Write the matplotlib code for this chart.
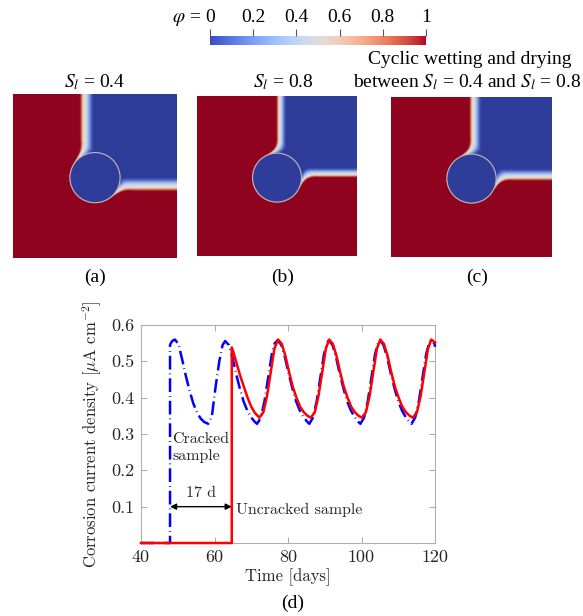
import numpy as np
import matplotlib
matplotlib.use('Agg')
import matplotlib.pyplot as plt
from matplotlib.colors import Normalize, ListedColormap
from matplotlib.cm import ScalarMappable
from matplotlib.patches import Circle

# ---- corrosion current density curves ----
red_t = [40, 64.7, 64.7, 65, 66, 67, 68, 69, 70, 71, 72.2, 73.3, 74.3, 75.3, 76.3,
         77.3, 78.3, 79.3, 80.3, 81.3, 82.3, 83.3, 84.3, 85.3, 86.2, 87.3, 88.3, 89.3, 90.3,
         91.2, 92.2, 93.2, 94.2, 95.2, 96.2, 97.2, 98.2, 99.2, 100.1, 101.2, 102.2, 103.2, 104.2,
         105.1, 106.1, 107.1, 108.1, 109.1, 110.1, 111.1, 112.1, 113.1, 114.0, 115.1, 116.1,
         117.1, 118.1, 119.0, 120]
red_j = [0, 0, 0.538, 0.53, 0.495, 0.46, 0.43, 0.40, 0.375, 0.358, 0.345, 0.36, 0.405, 0.47, 0.535,
         0.56, 0.548, 0.515, 0.47, 0.43, 0.40, 0.375, 0.36, 0.35, 0.345, 0.36, 0.405, 0.47, 0.535,
         0.56, 0.548, 0.515, 0.47, 0.43, 0.40, 0.375, 0.36, 0.35, 0.345, 0.36, 0.405, 0.47, 0.535,
         0.56, 0.548, 0.515, 0.47, 0.43, 0.40, 0.375, 0.36, 0.35, 0.345, 0.36, 0.405,
         0.47, 0.535, 0.56, 0.552]

blue_t = [40, 47.9, 47.9, 48.4, 49.2, 50.2, 51.2, 52.2, 53.2, 54.2, 55.2, 56.2, 57.2, 58.3,
          59.3, 60.3, 61.3, 62.2, 62.9,
          63.9, 64.9, 65.9, 66.9, 67.9, 68.9, 69.9, 70.9, 71.6, 72.6, 73.6, 74.6, 75.6, 76.4, 77.2,
          78.2, 79.2, 80.2, 81.2, 82.2, 83.2, 84.2, 85.2, 85.8, 86.8, 87.8, 88.8, 89.8, 90.6, 91.1,
          92.1, 93.1, 94.1, 95.1, 96.1, 97.1, 98.1, 99.1, 99.7, 100.7, 101.7, 102.7, 103.7, 104.5, 105.0,
          106.0, 107.0, 108.0, 109.0, 110.0, 111.0, 112.0, 113.0, 113.6, 114.6, 115.6, 116.6, 117.6,
          118.4, 118.9, 119.9, 120]
blue_j = [0, 0, 0.545, 0.555, 0.56, 0.548, 0.505, 0.46, 0.42, 0.385, 0.36, 0.343, 0.333, 0.328,
          0.35, 0.43, 0.50, 0.545, 0.556,
          0.545, 0.51, 0.465, 0.425, 0.39, 0.365, 0.347, 0.334, 0.328, 0.345, 0.39, 0.455, 0.52, 0.55, 0.558,
          0.545, 0.51, 0.465, 0.425, 0.39, 0.365, 0.347, 0.334, 0.328, 0.345, 0.39, 0.455, 0.52, 0.55, 0.558,
          0.545, 0.51, 0.465, 0.425, 0.39, 0.365, 0.347, 0.334, 0.328, 0.345, 0.39, 0.455, 0.52, 0.55, 0.558,
          0.545, 0.51, 0.465, 0.425, 0.39, 0.365, 0.347, 0.334, 0.328, 0.345, 0.39, 0.455, 0.52,
          0.55, 0.558, 0.548, 0.54]

x_ticks = [40, 60, 80, 100, 120]
y_ticks = [0.1, 0.2, 0.3, 0.4, 0.5, 0.6]
cbar_ticks = [0, 0.2, 0.4, 0.6, 0.8, 1]
cbar_labels = ['0', '0.2', '0.4', '0.6', '0.8', '1']

# ---- phase field snapshots: boundary of the dry (blue) region ----
panel_titles = [r'$S_l$ = 0.4', r'$S_l$ = 0.8', None]
panel_letters = ['(a)', '(b)', '(c)']
front_x = [0.435, 0.515, 0.51]    # vertical front position
front_y = [0.565, 0.49, 0.50]     # horizontal front position (from top)
fillet = [0.07, 0.09, 0.09]
width_blue = [0.06, 0.045, 0.055]
width_red = [0.03, 0.02, 0.025]
pit = (0.5, 0.51, 0.153)

FS = 'Liberation Serif'
CM = 'cmr10'

fig = plt.figure(figsize=(5.83, 6.16), dpi=100)
W, H = 583.0, 616.0


def box(x0, y0, x1, y1):
    return [x0 / W, 1 - y1 / H, (x1 - x0) / W, (y1 - y0) / H]


def smoothstep(t):
    t = np.clip(t, 0, 1)
    return t * t * (3 - 2 * t)


def phase_field(x0, y1, k, wb, wr, n=320):
    u, v = np.meshgrid(np.linspace(0, 1, n), np.linspace(0, 1, n))
    a = x0 - u
    b = v - y1
    dq = np.sqrt(np.maximum(a, 0) ** 2 + np.maximum(b, 0) ** 2) + np.minimum(np.maximum(a, b), 0)
    dc = np.hypot(u - pit[0], v - pit[1]) - pit[2]
    h = np.clip(0.5 + 0.5 * (dc - dq) / k, 0, 1)
    d = dc * (1 - h) + dq * h - k * h * (1 - h)
    # sharp edge where the pit itself dominates, diffuse along the fronts
    wr_e = 0.002 + (wr - 0.002) * h
    wb_e = 0.002 + (wb - 0.002) * h
    return np.where(d > 0, 0.5 + 0.5 * smoothstep(d / wr_e), 0.5 - 0.5 * smoothstep(-d / wb_e))


# darker version of coolwarm for the rendered fields
base = plt.get_cmap('coolwarm')(np.linspace(0, 1, 256))
shade = 0.8 + 0.2 * (1 - np.abs(np.linspace(-1, 1, 256)))
base[:, :3] *= shade[:, None]
cmap_img = ListedColormap(base)

# ---- colour bar ----
cax = fig.add_axes(box(210, 36, 426, 45))
cb = fig.colorbar(ScalarMappable(norm=Normalize(0, 1), cmap='coolwarm'), cax=cax,
                  orientation='horizontal', ticks=cbar_ticks)
cb.outline.set_visible(False)
cax.xaxis.set_ticks_position('top')
cax.set_xticklabels(cbar_labels, fontfamily=FS, fontsize=14)
cax.tick_params(axis='x', length=5, width=0.8, color='#555555', pad=2)
fig.text(201 / W, 1 - 20 / H, r'$\varphi$ =', ha='right', va='center',
         fontfamily=FS, fontsize=14, math_fontfamily='stix')

# ---- field images ----
img_boxes = [box(13, 94, 177, 258), box(197, 96, 357, 256), box(391, 97, 552, 257)]
title_pos = [95, 283, 470]
letter_pos = [95, 283, 477]
for i in range(3):
    ax = fig.add_axes(img_boxes[i])
    phi = phase_field(front_x[i], front_y[i], fillet[i], width_blue[i], width_red[i])
    ax.imshow(phi, cmap=cmap_img, vmin=0, vmax=1, extent=(0, 1, 1, 0),
              aspect='auto', interpolation='bilinear')
    ax.add_patch(Circle((pit[0], pit[1]), pit[2], facecolor=cmap_img(0.0),
                        edgecolor='#c9b3b6', lw=0.8))
    ax.set_xlim(0, 1)
    ax.set_ylim(1, 0)
    ax.axis('off')
    if panel_titles[i]:
        fig.text(title_pos[i] / W, 1 - 82 / H, panel_titles[i], ha='center', va='center',
                 fontfamily=FS, fontsize=14, math_fontfamily='stix')
    fig.text(letter_pos[i] / W, 1 - 277 / H, panel_letters[i], ha='center', va='center',
             fontfamily=FS, fontsize=14)

fig.text(470 / W, 1 - 60 / H, 'Cyclic wetting and drying', ha='center', va='center',
         fontfamily=FS, fontsize=14)
fig.text(467 / W, 1 - 82 / H, r'between $S_l$ = 0.4 and $S_l$ = 0.8', ha='center', va='center',
         fontfamily=FS, fontsize=14, math_fontfamily='stix')

# ---- corrosion current plot ----
ax = fig.add_axes(box(141, 325, 435, 543))
ax.plot(blue_t, blue_j, color='#0000ff', lw=1.8, ls=(0, (5.5, 1.6, 0.3, 1.6)),
        clip_on=False, zorder=3)
ax.plot(red_t, red_j, color='#ff0000', lw=1.8, clip_on=False, zorder=4)
ax.set_xlim(40, 120)
ax.set_ylim(0, 0.6)
ax.set_xticks(x_ticks)
ax.set_xticklabels([str(v) for v in x_ticks], fontfamily=CM, fontsize=13)
ax.set_yticks(y_ticks)
ax.set_yticklabels(['%.1f' % v for v in y_ticks], fontfamily=CM, fontsize=13)
ax.tick_params(direction='in', top=True, right=True, length=4, width=0.6,
               color='#9a9a9a', labelcolor='#262626', pad=5)
for s in ax.spines.values():
    s.set_color('#b0b0b0')
    s.set_linewidth(0.8)
ax.set_xlabel('Time [days]', fontfamily=CM, fontsize=12, color='#262626', labelpad=2)
ax.set_ylabel(r'Corrosion current density [$\mu$A cm$^{-2}$]', fontfamily=CM,
              fontsize=12, color='#262626', math_fontfamily='cm', labelpad=5)

ax.annotate('', xy=(47.9, 0.1), xytext=(64.7, 0.1),
            arrowprops=dict(arrowstyle='<|-|>', color='black', lw=1.0,
                            mutation_scale=9, shrinkA=0, shrinkB=0))
ax.text(56.3, 0.138, '17 d', ha='center', va='center', fontfamily=CM, fontsize=11.5,
        color='#262626')
ax.text(48.6, 0.262, 'Cracked\nsample', ha='left', va='center', fontfamily=CM,
        fontsize=11.5, color='#262626', linespacing=1.25)
ax.text(65.9, 0.09, 'Uncracked sample', ha='left', va='center', fontfamily=CM,
        fontsize=11.5, color='#262626')

fig.text(293 / W, 1 - 603 / H, '(d)', ha='center', va='center', fontfamily=FS, fontsize=14)

fig.savefig('out.png', dpi=100)
